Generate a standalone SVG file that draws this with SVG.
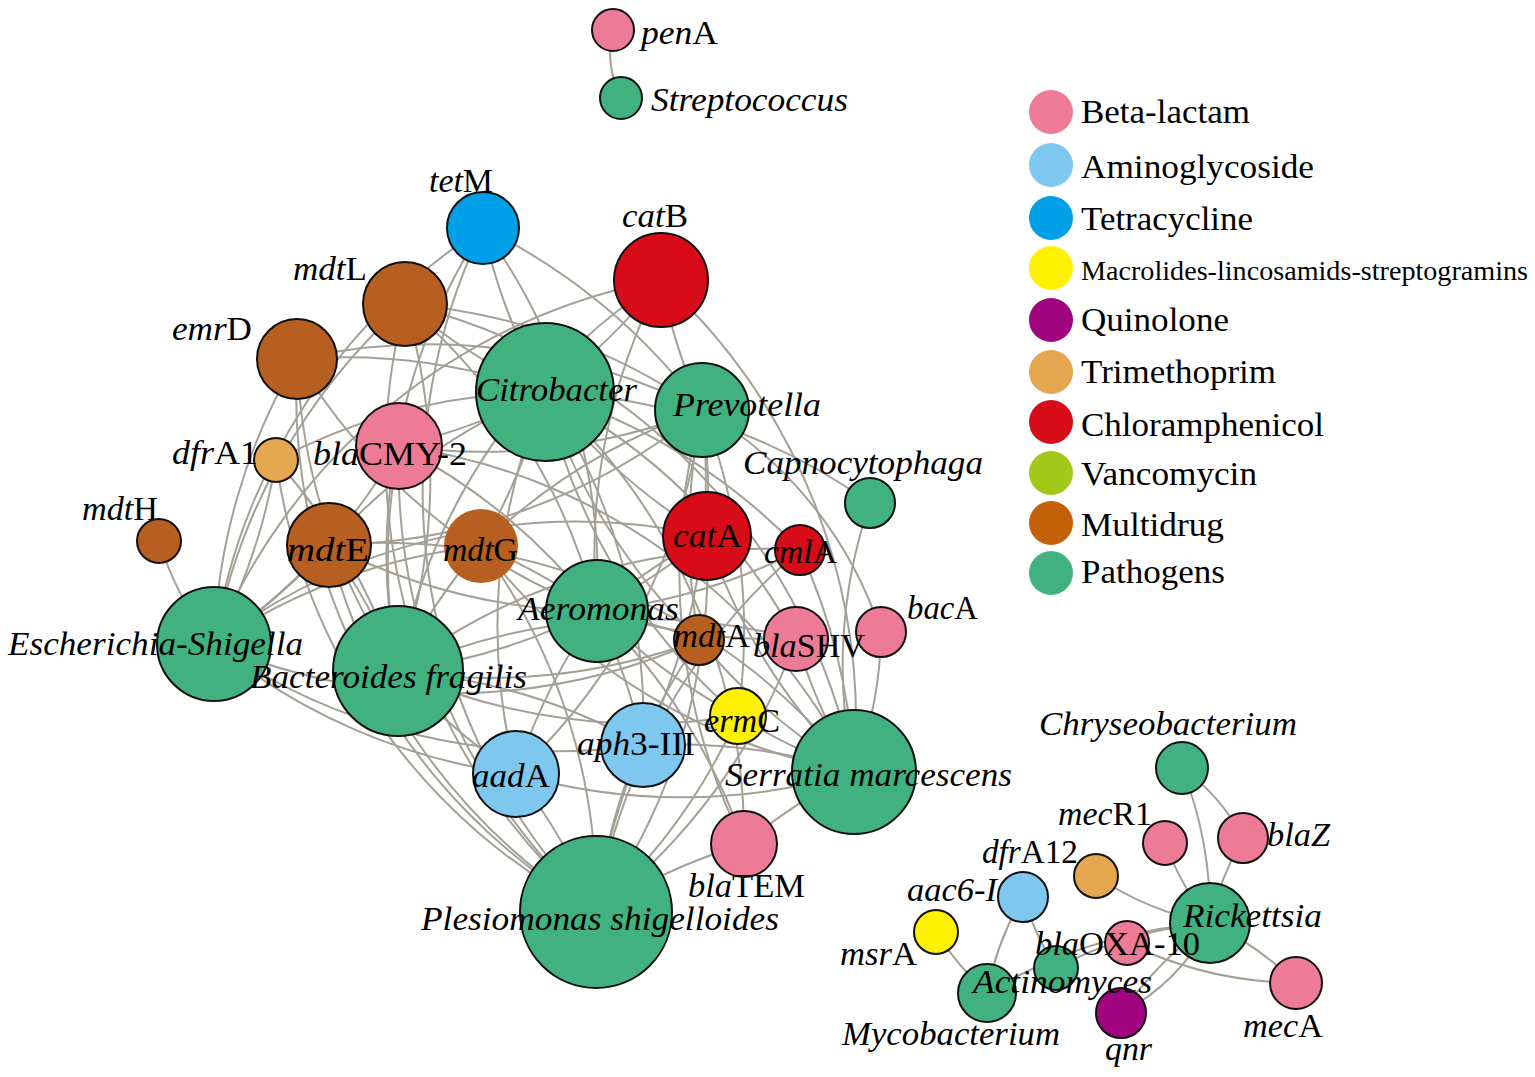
<svg xmlns="http://www.w3.org/2000/svg" width="1535" height="1077" viewBox="0 0 1535 1077">
<style>
.e path{fill:none;stroke:#A3A196;stroke-width:2}
circle.n{stroke:#111;stroke-width:2}
text{font-family:"Liberation Serif","Times New Roman",serif;fill:#000}
.lb{font-size:34px}
.lg{font-size:33px}
.i{font-style:italic}
.bl{fill:#EE7B95}.ag{fill:#7EC8EF}.tc{fill:#00A0E8}.ml{fill:#FFF100}.qn{fill:#A1047F}
.tm{fill:#E4A64F}.ch{fill:#D80C18}.vc{fill:#A2C91A}.md{fill:#B65F20}.pg{fill:#41B27F}
.mdl{fill:#C46108}
</style>
<rect width="1535" height="1077" fill="#fff"/>
<g id="connectors" class="e">
<path d="M613 30 A100 100 0 0 0 621 98"/>
<path d="M545 392 A600 600 0 0 1 483 228"/>
<path d="M545 392 A600 600 0 0 0 661 280"/>
<path d="M545 392 A600 600 0 0 1 405 304"/>
<path d="M545 392 A600 600 0 0 0 297 359"/>
<path d="M545 392 A600 600 0 0 1 399 446"/>
<path d="M545 392 A600 600 0 0 0 329 545"/>
<path d="M545 392 A600 600 0 0 1 481 546"/>
<path d="M545 392 A600 600 0 0 0 707 536"/>
<path d="M545 392 A600 600 0 0 1 800 550"/>
<path d="M545 392 A600 600 0 0 0 699 640"/>
<path d="M545 392 A600 600 0 0 1 796 639"/>
<path d="M545 392 A600 600 0 0 0 738 716"/>
<path d="M545 392 A600 600 0 0 1 643 745"/>
<path d="M545 392 A600 600 0 0 0 516 774"/>
<path d="M545 392 A600 600 0 0 1 744 844"/>
<path d="M545 392 A600 600 0 0 0 276 460"/>
<path d="M545 392 A600 600 0 0 1 870 503"/>
<path d="M702 410 A600 600 0 0 1 661 280"/>
<path d="M702 410 A600 600 0 0 0 405 304"/>
<path d="M702 410 A600 600 0 0 0 297 359"/>
<path d="M702 410 A600 600 0 0 1 399 446"/>
<path d="M702 410 A600 600 0 0 1 329 545"/>
<path d="M702 410 A600 600 0 0 0 481 546"/>
<path d="M702 410 A600 600 0 0 1 707 536"/>
<path d="M702 410 A600 600 0 0 0 699 640"/>
<path d="M702 410 A600 600 0 0 1 643 745"/>
<path d="M702 410 A600 600 0 0 1 516 774"/>
<path d="M702 410 A600 600 0 0 0 744 844"/>
<path d="M702 410 A600 600 0 0 1 738 716"/>
<path d="M702 410 A400 400 0 0 1 881 632"/>
<path d="M702 410 A600 600 0 0 0 483 228"/>
<path d="M597 611 A600 600 0 0 0 483 228"/>
<path d="M597 611 A600 600 0 0 1 661 280"/>
<path d="M597 611 A600 600 0 0 0 405 304"/>
<path d="M597 611 A600 600 0 0 1 297 359"/>
<path d="M597 611 A600 600 0 0 0 399 446"/>
<path d="M597 611 A600 600 0 0 1 329 545"/>
<path d="M597 611 A600 600 0 0 0 481 546"/>
<path d="M597 611 A600 600 0 0 1 707 536"/>
<path d="M597 611 A600 600 0 0 0 800 550"/>
<path d="M597 611 A600 600 0 0 1 643 745"/>
<path d="M597 611 A600 600 0 0 0 516 774"/>
<path d="M597 611 A600 600 0 0 1 744 844"/>
<path d="M597 611 A600 600 0 0 0 796 639"/>
<path d="M597 611 A600 600 0 0 1 699 640"/>
<path d="M597 611 A600 600 0 0 0 738 716"/>
<path d="M214 644 A600 600 0 0 1 483 228"/>
<path d="M214 644 A600 600 0 0 1 405 304"/>
<path d="M214 644 A600 600 0 0 1 297 359"/>
<path d="M214 644 A600 600 0 0 0 276 460"/>
<path d="M214 644 A300 300 0 0 1 159 541"/>
<path d="M214 644 A600 600 0 0 0 329 545"/>
<path d="M214 644 A600 600 0 0 1 481 546"/>
<path d="M214 644 A600 600 0 0 0 399 446"/>
<path d="M214 644 A600 600 0 0 1 707 536"/>
<path d="M214 644 A600 600 0 0 0 643 745"/>
<path d="M214 644 A600 600 0 0 0 516 774"/>
<path d="M214 644 A600 600 0 0 1 661 280"/>
<path d="M214 644 A600 600 0 0 0 699 640"/>
<path d="M398 671 A600 600 0 0 1 483 228"/>
<path d="M398 671 A600 600 0 0 0 405 304"/>
<path d="M398 671 A600 600 0 0 1 297 359"/>
<path d="M398 671 A600 600 0 0 0 276 460"/>
<path d="M398 671 A600 600 0 0 1 399 446"/>
<path d="M398 671 A600 600 0 0 0 329 545"/>
<path d="M398 671 A600 600 0 0 1 481 546"/>
<path d="M398 671 A600 600 0 0 0 707 536"/>
<path d="M398 671 A600 600 0 0 1 800 550"/>
<path d="M398 671 A600 600 0 0 0 699 640"/>
<path d="M398 671 A600 600 0 0 1 643 745"/>
<path d="M398 671 A600 600 0 0 0 516 774"/>
<path d="M398 671 A600 600 0 0 1 796 639"/>
<path d="M398 671 A600 600 0 0 0 738 716"/>
<path d="M398 671 A600 600 0 0 1 661 280"/>
<path d="M854 772 A600 600 0 0 0 661 280"/>
<path d="M854 772 A600 600 0 0 0 405 304"/>
<path d="M854 772 A600 600 0 0 1 707 536"/>
<path d="M854 772 A600 600 0 0 0 800 550"/>
<path d="M854 772 A600 600 0 0 1 796 639"/>
<path d="M854 772 A400 400 0 0 0 881 632"/>
<path d="M854 772 A600 600 0 0 1 738 716"/>
<path d="M854 772 A600 600 0 0 0 643 745"/>
<path d="M854 772 A600 600 0 0 1 516 774"/>
<path d="M854 772 A600 600 0 0 0 744 844"/>
<path d="M854 772 A600 600 0 0 1 699 640"/>
<path d="M854 772 A600 600 0 0 0 399 446"/>
<path d="M854 772 A600 600 0 0 1 481 546"/>
<path d="M854 772 A600 600 0 0 0 329 545"/>
<path d="M854 772 A500 500 0 0 1 870 503"/>
<path d="M596 912 A600 600 0 0 1 297 359"/>
<path d="M596 912 A600 600 0 0 1 405 304"/>
<path d="M596 912 A600 600 0 0 1 329 545"/>
<path d="M596 912 A600 600 0 0 0 481 546"/>
<path d="M596 912 A600 600 0 0 1 399 446"/>
<path d="M596 912 A600 600 0 0 0 707 536"/>
<path d="M596 912 A600 600 0 0 1 699 640"/>
<path d="M596 912 A600 600 0 0 0 738 716"/>
<path d="M596 912 A600 600 0 0 1 643 745"/>
<path d="M596 912 A600 600 0 0 0 516 774"/>
<path d="M596 912 A600 600 0 0 1 744 844"/>
<path d="M596 912 A600 600 0 0 0 796 639"/>
<path d="M596 912 A600 600 0 0 1 800 550"/>
<path d="M596 912 A600 600 0 0 1 483 228"/>
<path d="M596 912 A600 600 0 0 1 276 460"/>
<path d="M1182 768 A400 400 0 0 1 1210 923"/>
<path d="M1182 768 A200 200 0 0 1 1243 838"/>
<path d="M1243 838 A300 300 0 0 0 1210 923"/>
<path d="M1165 843 A300 300 0 0 0 1210 923"/>
<path d="M1096 876 A300 300 0 0 0 1210 923"/>
<path d="M1210 923 A300 300 0 0 1 1296 983"/>
<path d="M1127 943 A400 400 0 0 0 1296 983"/>
<path d="M1121 1013 A200 200 0 0 0 1210 923"/>
<path d="M1121 1013 A400 400 0 0 1 1210 923"/>
<path d="M1023 897 A300 300 0 0 0 987 993"/>
<path d="M1023 897 A300 300 0 0 0 1056 968"/>
<path d="M936 932 A300 300 0 0 0 987 993"/>
<path d="M987 993 A500 500 0 0 1 1210 923"/>
<path d="M1056 968 A400 400 0 0 1 1210 923"/>
</g>
<g id="nodes">
<g id="penA"><circle class="n bl" cx="613" cy="30" r="21"/><text class="lb" x="641" y="44" textLength="77" lengthAdjust="spacingAndGlyphs"><tspan class="i">pen</tspan>A</text></g>
<g id="Streptococcus"><circle class="n pg" cx="621" cy="98" r="21"/><text class="lb i" x="651" y="111" textLength="197" lengthAdjust="spacingAndGlyphs">Streptococcus</text></g>
<g id="tetM"><circle class="n tc" cx="483" cy="228" r="36"/><text class="lb" x="429" y="192" textLength="64" lengthAdjust="spacingAndGlyphs"><tspan class="i">tet</tspan>M</text></g>
<g id="catB"><circle class="n ch" cx="661" cy="280" r="47"/><text class="lb" x="622" y="227" textLength="66" lengthAdjust="spacingAndGlyphs"><tspan class="i">cat</tspan>B</text></g>
<g id="mdtL"><circle class="n md" cx="405" cy="304" r="42"/><text class="lb" x="293" y="280" textLength="74" lengthAdjust="spacingAndGlyphs"><tspan class="i">mdt</tspan>L</text></g>
<g id="emrD"><circle class="n md" cx="297" cy="359" r="40"/><text class="lb" x="172" y="340" textLength="80" lengthAdjust="spacingAndGlyphs"><tspan class="i">emr</tspan>D</text></g>
<g id="Citrobacter"><circle class="n pg" cx="545" cy="392" r="69"/><text class="lb i" x="476" y="401" textLength="161" lengthAdjust="spacingAndGlyphs">Citrobacter</text></g>
<g id="Prevotella"><circle class="n pg" cx="702" cy="410" r="47"/><text class="lb i" x="673" y="416" textLength="148" lengthAdjust="spacingAndGlyphs">Prevotella</text></g>
<g id="dfrA1"><circle class="n tm" cx="276" cy="460" r="22"/><text class="lb" x="172" y="464" textLength="86" lengthAdjust="spacingAndGlyphs"><tspan class="i">dfr</tspan>A1</text></g>
<g id="blaCMY-2"><circle class="n bl" cx="399" cy="446" r="43"/><text class="lb" x="313" y="465" textLength="154" lengthAdjust="spacingAndGlyphs"><tspan class="i">bla</tspan>CMY-2</text></g>
<g id="Capnocytophaga"><circle class="n pg" cx="870" cy="503" r="25"/><text class="lb i" x="743" y="474" textLength="240" lengthAdjust="spacingAndGlyphs">Capnocytophaga</text></g>
<g id="mdtH"><circle class="n md" cx="159" cy="541" r="22"/><text class="lb" x="82" y="520" textLength="76" lengthAdjust="spacingAndGlyphs"><tspan class="i">mdt</tspan>H</text></g>
<g id="mdtE"><circle class="n md" cx="329" cy="545" r="42"/><text class="lb" x="287" y="561" textLength="82" lengthAdjust="spacingAndGlyphs"><tspan class="i">mdt</tspan>E</text></g>
<g id="mdtG"><circle class="md" cx="481" cy="546" r="37"/><text class="lb" x="443" y="561" textLength="75" lengthAdjust="spacingAndGlyphs"><tspan class="i">mdt</tspan>G</text></g>
<g id="catA"><circle class="n ch" cx="707" cy="536" r="44"/><text class="lb" x="673" y="547" textLength="69" lengthAdjust="spacingAndGlyphs"><tspan class="i">cat</tspan>A</text></g>
<g id="cmlA"><circle class="n ch" cx="800" cy="550" r="25"/><text class="lb" x="764" y="563" textLength="73" lengthAdjust="spacingAndGlyphs"><tspan class="i">cml</tspan>A</text></g>
<g id="mdtA"><circle class="n md" cx="699" cy="640" r="25"/><text class="lb" x="673" y="647" textLength="77" lengthAdjust="spacingAndGlyphs"><tspan class="i">mdt</tspan>A</text></g>
<g id="Aeromonas"><circle class="n pg" cx="597" cy="611" r="51"/><text class="lb i" x="518" y="620" textLength="161" lengthAdjust="spacingAndGlyphs">Aeromonas</text></g>
<g id="bacA"><circle class="n bl" cx="881" cy="632" r="25"/><text class="lb" x="907" y="619" textLength="71" lengthAdjust="spacingAndGlyphs"><tspan class="i">bac</tspan>A</text></g>
<g id="blaSHV"><circle class="n bl" cx="796" cy="639" r="32"/><text class="lb" x="753" y="657" textLength="112" lengthAdjust="spacingAndGlyphs"><tspan class="i">bla</tspan>SHV</text></g>
<g id="ermC"><circle class="n ml" cx="738" cy="716" r="28"/><text class="lb" x="704" y="732" textLength="76" lengthAdjust="spacingAndGlyphs"><tspan class="i">erm</tspan>C</text></g>
<g id="aph3-III"><circle class="n ag" cx="643" cy="745" r="42"/><text class="lb" x="577" y="755" textLength="118" lengthAdjust="spacingAndGlyphs"><tspan class="i">aph</tspan>3-III</text></g>
<g id="aadA"><circle class="n ag" cx="516" cy="774" r="43"/><text class="lb" x="472" y="787" textLength="78" lengthAdjust="spacingAndGlyphs"><tspan class="i">aad</tspan>A</text></g>
<g id="Escherichia-Shigella"><circle class="n pg" cx="214" cy="644" r="57"/><text class="lb i" x="8" y="655" textLength="295" lengthAdjust="spacingAndGlyphs">Escherichia-Shigella</text></g>
<g id="Bacteroides-fragilis"><circle class="n pg" cx="398" cy="671" r="65"/><text class="lb i" x="250" y="688" textLength="277" lengthAdjust="spacingAndGlyphs">Bacteroides fragilis</text></g>
<g id="Serratia-marcescens"><circle class="n pg" cx="854" cy="772" r="62"/><text class="lb i" x="725" y="786" textLength="287" lengthAdjust="spacingAndGlyphs">Serratia marcescens</text></g>
<g id="blaTEM"><circle class="n bl" cx="744" cy="844" r="33"/><text class="lb" x="688" y="897" textLength="117" lengthAdjust="spacingAndGlyphs"><tspan class="i">bla</tspan>TEM</text></g>
<g id="Plesiomonas-shigelloides"><circle class="n pg" cx="596" cy="912" r="76"/><text class="lb i" x="421" y="930" textLength="358" lengthAdjust="spacingAndGlyphs">Plesiomonas shigelloides</text></g>
<g id="Chryseobacterium"><circle class="n pg" cx="1182" cy="768" r="26"/><text class="lb i" x="1039" y="735" textLength="258" lengthAdjust="spacingAndGlyphs">Chryseobacterium</text></g>
<g id="mecR1"><circle class="n bl" cx="1165" cy="843" r="22"/><text class="lb" x="1058" y="825" textLength="94" lengthAdjust="spacingAndGlyphs"><tspan class="i">mec</tspan>R1</text></g>
<g id="blaZ"><circle class="n bl" cx="1243" cy="838" r="25"/><text class="lb i" x="1267" y="846" textLength="63" lengthAdjust="spacingAndGlyphs">blaZ</text></g>
<g id="dfrA12"><circle class="n tm" cx="1096" cy="876" r="22"/><text class="lb" x="982" y="863" textLength="96" lengthAdjust="spacingAndGlyphs"><tspan class="i">dfr</tspan>A12</text></g>
<g id="aac6-I"><circle class="n ag" cx="1023" cy="897" r="25"/><text class="lb i" x="907" y="901" textLength="90" lengthAdjust="spacingAndGlyphs">aac6-I</text></g>
<g id="msrA"><circle class="n ml" cx="936" cy="932" r="22"/><text class="lb" x="840" y="965" textLength="77" lengthAdjust="spacingAndGlyphs"><tspan class="i">msr</tspan>A</text></g>
<g id="Rickettsia"><circle class="n pg" cx="1210" cy="923" r="40"/><text class="lb i" x="1183" y="927" textLength="139" lengthAdjust="spacingAndGlyphs">Rickettsia</text></g>
<g id="Mycobacterium"><circle class="n pg" cx="987" cy="993" r="29"/><text class="lb i" x="842" y="1045" textLength="218" lengthAdjust="spacingAndGlyphs">Mycobacterium</text></g>
<g id="qnr"><circle class="n qn" cx="1121" cy="1013" r="25"/><text class="lb i" x="1105" y="1060" textLength="47" lengthAdjust="spacingAndGlyphs">qnr</text></g>
<g id="mecA"><circle class="n bl" cx="1296" cy="983" r="26"/><text class="lb" x="1243" y="1037" textLength="80" lengthAdjust="spacingAndGlyphs"><tspan class="i">mec</tspan>A</text></g>
<g id="Actinomyces"><circle class="n pg" cx="1056" cy="968" r="22"/><text class="lb i" x="973" y="993" textLength="179" lengthAdjust="spacingAndGlyphs">Actinomyces</text></g>
<g id="blaOXA-10"><circle class="n bl" cx="1127" cy="943" r="22"/><text class="lb" x="1035" y="955" textLength="165" lengthAdjust="spacingAndGlyphs"><tspan class="i">bla</tspan>OXA-10</text></g>
</g>
<g id="legend">
<circle class="bl" cx="1051" cy="112" r="22"/><text class="lg" x="1081" y="123" textLength="169" lengthAdjust="spacingAndGlyphs">Beta-lactam</text>
<circle class="ag" cx="1051" cy="165" r="22"/><text class="lg" x="1081" y="178" textLength="233" lengthAdjust="spacingAndGlyphs">Aminoglycoside</text>
<circle class="tc" cx="1051" cy="218" r="22"/><text class="lg" x="1081" y="230" textLength="172" lengthAdjust="spacingAndGlyphs">Tetracycline</text>
<circle class="ml" cx="1051" cy="268" r="22"/><text style="font-size:27px" x="1081" y="280" textLength="447" lengthAdjust="spacingAndGlyphs">Macrolides-lincosamids-streptogramins</text>
<circle class="qn" cx="1051" cy="320" r="22"/><text class="lg" x="1081" y="331" textLength="148" lengthAdjust="spacingAndGlyphs">Quinolone</text>
<circle class="tm" cx="1051" cy="372" r="22"/><text class="lg" x="1081" y="383" textLength="195" lengthAdjust="spacingAndGlyphs">Trimethoprim</text>
<circle class="ch" cx="1051" cy="422" r="22"/><text class="lg" x="1081" y="436" textLength="243" lengthAdjust="spacingAndGlyphs">Chloramphenicol</text>
<circle class="vc" cx="1051" cy="473" r="22"/><text class="lg" x="1081" y="485" textLength="176" lengthAdjust="spacingAndGlyphs">Vancomycin</text>
<circle class="mdl" cx="1051" cy="523" r="22"/><text class="lg" x="1081" y="536" textLength="143" lengthAdjust="spacingAndGlyphs">Multidrug</text>
<circle class="pg" cx="1051" cy="573" r="22"/><text class="lg" x="1081" y="583" textLength="144" lengthAdjust="spacingAndGlyphs">Pathogens</text>
</g>
</svg>
